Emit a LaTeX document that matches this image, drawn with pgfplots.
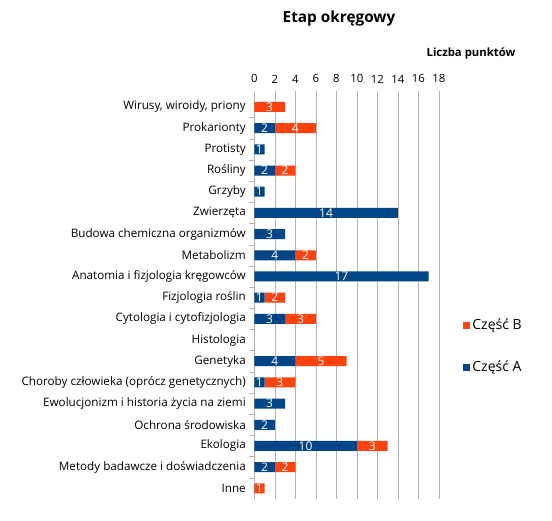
\documentclass[border=0pt]{standalone}
\usepackage{pgfplots}
\pgfplotsset{compat=1.18}
\usepackage{pgfplotstable}
\usepackage{fontspec}
\setmainfont{Open Sans}
\definecolor{czescA}{HTML}{004586}
\definecolor{czescB}{HTML}{FF420E}
\definecolor{siatka}{HTML}{B3B3B3}

% idx = kolejnosc kategorii (od gory), a = Czesc A, b = Czesc B
\pgfplotstableread{
idx a b
0 0 3
1 2 4
2 1 0
3 2 2
4 1 0
5 14 0
6 3 0
7 4 2
8 17 0
9 1 2
10 3 3
11 0 0
12 4 5
13 1 3
14 3 0
15 2 0
16 10 3
17 2 2
18 0 1
}\punkty

\begin{document}
\begin{tikzpicture}
\useasboundingbox (-190.725pt,-15.825pt) rectangle (223.275pt,374.175pt);
\begin{axis}[
    at={(0pt,0pt)}, anchor=south west,
    scale only axis,
    width=138.4pt, height=301.9pt,
    xbar stacked,
    bar width=7.5pt,
    xmin=0, xmax=18,
    ymin=-0.5, ymax=18.5,
    y dir=reverse,
    axis x line*=top,
    axis y line*=left,
    x axis line style={draw=none},
    y axis line style={draw=siatka},
    xtick={0,2,...,18},
    xmajorgrids,
    grid style={siatka},
    tick style={siatka},
    tick align=outside,
    major tick length=3.75pt,
    ytick={0.5,1.5,...,17.5},
    yticklabels={},
    extra y ticks={0,...,18},
    extra y tick labels={
        {Wirusy, wiroidy, priony},
        Prokarionty,
        Protisty,
        Rośliny,
        Grzyby,
        Zwierzęta,
        Budowa chemiczna organizmów,
        Metabolizm,
        Anatomia i fizjologia kręgowców,
        Fizjologia roślin,
        Cytologia i cytofizjologia,
        Histologia,
        Genetyka,
        Choroby człowieka (oprócz genetycznych),
        Ewolucjonizm i historia życia na ziemi,
        Ochrona środowiska,
        Ekologia,
        Metody badawcze i doświadczenia,
        Inne},
    extra y tick style={major tick length=0pt},
    y tick label style={font=\fontsize{8.75}{10}\selectfont, inner sep=0pt, xshift=-6.2pt},
    x tick label style={font=\fontsize{8.5}{10}\selectfont, inner sep=0pt, anchor=south, yshift=6pt},
    /pgf/number format/assume math mode=true,
    title={Etap okręgowy},
    title style={at={(axis description cs:0.459,1.1746)}, anchor=center,
        font=\bfseries\fontsize{11.5}{13}\selectfont},
    xlabel={Liczba punktów},
    xlabel style={at={(axis description cs:1.174,1.1075)}, anchor=center,
        font=\bfseries\fontsize{8.5}{10}\selectfont},
    reverse legend,
    legend style={at={(axis description cs:1.128,0.379)}, anchor=west,
        draw=none, fill=none, inner sep=0pt, row sep=17.75pt,
        font=\fontsize{10.5}{12}\selectfont},
    legend cell align=left,
    legend image code/.code={\fill[#1] (0pt,-2.6pt) rectangle (5.25pt,2.6pt);},
    nodes near coords={\ifdim\wart pt>0pt \pgfmathprintnumber{\wart}\fi},
    every node near coord/.append style={anchor=center, text=white,
        font=\fontsize{9}{10}\selectfont},
]
\addplot[fill=czescA, draw=none,
    visualization depends on={\thisrow{a} \as \wart}]
    table[x=a, y=idx] {\punkty};
\addplot[fill=czescB, draw=none,
    visualization depends on={\thisrow{b} \as \wart}]
    table[x=b, y=idx] {\punkty};
\legend{Część A, Część B}
\end{axis}
\end{tikzpicture}
\end{document}
